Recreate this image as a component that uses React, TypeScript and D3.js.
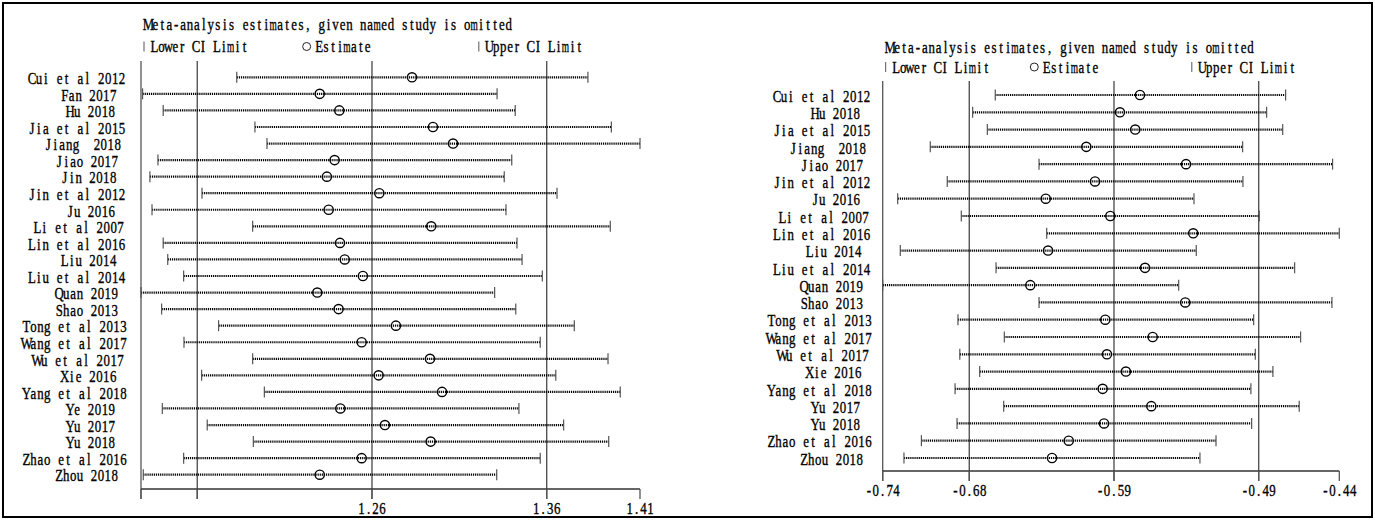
import React from "react";
import * as d3 from "d3";

// left plot: pooled estimate when the named study is left out
const leftStudies = ["Cui et al 2012", "Fan 2017", "Hu 2018", "Jia et al 2015", "Jiang  2018", "Jiao 2017", "Jin 2018", "Jin et al 2012", "Ju 2016", "Li et al 2007", "Lin et al 2016", "Liu 2014", "Liu et al 2014", "Quan 2019", "Shao 2013", "Tong et al 2013", "Wang et al 2017", "Wu et al 2017", "Xie 2016", "Yang et al 2018", "Ye 2019", "Yu 2017", "Yu 2018", "Zhao et al 2016", "Zhou 2018"];
const leftLower = [1.1826, 1.1287, 1.1405, 1.193, 1.1999, 1.1375, 1.1329, 1.1627, 1.1341, 1.1917, 1.1405, 1.1431, 1.1522, 1.1278, 1.1396, 1.1722, 1.1524, 1.1917, 1.1625, 1.1984, 1.14, 1.1657, 1.1921, 1.1522, 1.1291];
const leftEstimate = [1.2829, 1.2301, 1.2413, 1.2949, 1.3064, 1.2386, 1.2342, 1.2642, 1.2352, 1.2939, 1.2417, 1.2444, 1.2548, 1.2287, 1.2409, 1.2737, 1.2541, 1.2932, 1.2638, 1.3001, 1.2419, 1.2674, 1.2936, 1.2541, 1.2301];
const leftUpper = [1.3836, 1.3316, 1.342, 1.397, 1.4134, 1.34, 1.3357, 1.3659, 1.3367, 1.3964, 1.343, 1.3459, 1.3575, 1.3302, 1.3423, 1.3758, 1.3563, 1.3951, 1.3652, 1.4021, 1.3441, 1.3697, 1.3955, 1.3563, 1.3314];
const leftOverall = [1.16, 1.26, 1.36]; // lower CI, estimate, upper CI
const leftTickLabels = ["", "", "1.26", "1.36", "1.41"];

// right plot
const rightStudies = ["Cui et al 2012", "Hu 2018", "Jia et al 2015", "Jiang  2018", "Jiao 2017", "Jin et al 2012", "Ju 2016", "Li et al 2007", "Lin et al 2016", "Liu 2014", "Liu et al 2014", "Quan 2019", "Shao 2013", "Tong et al 2013", "Wang et al 2017", "Wu et al 2017", "Xie 2016", "Yang et al 2018", "Yu 2017", "Yu 2018", "Zhao et al 2016", "Zhou 2018"];
const rightLower = [-0.6656, -0.6804, -0.6708, -0.7081, -0.637, -0.697, -0.7294, -0.6878, -0.632, -0.7277, -0.6651, -0.7392, -0.637, -0.69, -0.6597, -0.6888, -0.6758, -0.6919, -0.6601, -0.6906, -0.7139, -0.7253];
const rightEstimate = [-0.571, -0.5841, -0.5741, -0.6061, -0.5409, -0.6004, -0.6326, -0.5904, -0.5362, -0.6311, -0.5677, -0.6427, -0.5414, -0.5937, -0.5627, -0.5926, -0.5802, -0.5954, -0.5636, -0.5945, -0.6176, -0.6285];
const rightUpper = [-0.4758, -0.4882, -0.4777, -0.5039, -0.4451, -0.5037, -0.5357, -0.493, -0.4407, -0.5342, -0.4699, -0.5457, -0.4455, -0.4967, -0.466, -0.4956, -0.4841, -0.4985, -0.4669, -0.498, -0.5213, -0.5318];
const rightOverall = [-0.6826, -0.588, -0.4934];
const rightTickLabels = ["-0.74", "-0.68", "-0.59", "-0.49", "-0.44"];

const title = "Meta-analysis estimates, given named study is omitted";

const FONT = "'Liberation Serif', 'DejaVu Serif', serif";
const CHAR_W = 6.93; // fixed-pitch cell, like the Stata export
const SX = 0.78;
const WIDE = "m";

// fixed-pitch text: each glyph centred in its own cell
function Txt({ x, y, anchor = "start", children }: any) {
  const s = String(children);
  const width = s.length * CHAR_W;
  const start = anchor === "middle" ? x - width / 2 : anchor === "end" ? x - width : x;
  return (
    <text
      transform={`scale(${SX},1)`}
      y={y}
      dy="0.35em"
      textAnchor="middle"
      fontFamily={FONT}
      fontSize={16.5}
      fill="#000"
      stroke="#000"
      strokeWidth={0.35}
    >
      {Array.from(s).map((c, i) =>
        c === " " ? null : WIDE.includes(c) ? (
          <tspan key={i} x={(start + (i + 0.5) * CHAR_W) / SX} textLength={(CHAR_W * 1.05) / SX} lengthAdjust="spacingAndGlyphs">
            {c}
          </tspan>
        ) : (
          <tspan key={i} x={(start + (i + 0.5) * CHAR_W) / SX}>
            {c}
          </tspan>
        )
      )}
    </text>
  );
}

function Panel(props: any) {
  const { studies, lower, estimate, upper, overall, tickLabels, x0, x1, rowTop, rowBottom, lineTop, axisY, titleY, legendY, labelCenter, tickLabelY } = props;
  const x = d3.scaleLinear().domain([d3.min(lower) as number, d3.max(upper) as number]).range([x0, x1]);
  const y = d3.scalePoint<string>().domain(studies).range([rowTop, rowBottom]);
  const ticks = [x.domain()[0], ...overall, x.domain()[1]];
  const w = x1 - x0;
  const grey = "#555";

  return (
    <g>
      <Txt x={x0 + 4} y={titleY}>{title}</Txt>
      {/* legend */}
      <line x1={x0 + 3} x2={x0 + 3} y1={legendY - 5} y2={legendY + 5} stroke={grey} strokeWidth={1} />
      <Txt x={x0 + 10} y={legendY}>Lower CI Limit</Txt>
      <circle cx={x0 + w * 0.332} cy={legendY} r={4} fill="none" stroke="#222" strokeWidth={1} />
      <Txt x={x0 + w * 0.332 + 9} y={legendY}>Estimate</Txt>
      <line x1={x0 + w * 0.677} x2={x0 + w * 0.677} y1={legendY - 5} y2={legendY + 5} stroke={grey} strokeWidth={1} />
      <Txt x={x0 + w * 0.677 + 7} y={legendY}>Upper CI Limit</Txt>

      {/* left axis and overall reference lines */}
      <line x1={x0} x2={x0} y1={lineTop} y2={axisY + 10} stroke={grey} strokeWidth={1.3} />
      {overall.map((v: number, i: number) => (
        <line key={i} x1={x(v)} x2={x(v)} y1={lineTop} y2={axisY + 10} stroke={grey} strokeWidth={1.4} />
      ))}
      <line x1={x0} x2={x1} y1={axisY} y2={axisY} stroke="#333" strokeWidth={1.3} />
      {ticks.map((v, i) => (
        <g key={i}>
          <line x1={x(v)} x2={x(v)} y1={axisY} y2={axisY + 10} stroke={grey} strokeWidth={1.3} />
          {tickLabels[i] ? <Txt x={x(v)} y={tickLabelY} anchor="middle">{tickLabels[i]}</Txt> : null}
        </g>
      ))}

      {/* study rows */}
      {studies.map((s: string, i: number) => {
        const yy = y(s) as number;
        return (
          <g key={s}>
            <Txt x={labelCenter - 2 * (s.length - 11)} y={yy + 1} anchor="middle">{s}</Txt>
            <line x1={x(lower[i])} x2={x(upper[i])} y1={yy} y2={yy} stroke="#000" strokeWidth={2.2} strokeDasharray="1.2 0.9" />
            <line x1={x(lower[i])} x2={x(lower[i])} y1={yy - 5.5} y2={yy + 5.5} stroke={grey} strokeWidth={1.2} />
            <line x1={x(upper[i])} x2={x(upper[i])} y1={yy - 5.5} y2={yy + 5.5} stroke={grey} strokeWidth={1.2} />
            <circle cx={x(estimate[i])} cy={yy} r={4.6} fill="none" stroke="#000" strokeWidth={1.4} />
          </g>
        );
      })}
    </g>
  );
}

export default function App() {
  return (
    <svg width={1375} height={520} style={{ position: "absolute", left: 0, top: 0, background: "#fff" }}>
      <rect x={0} y={0} width={1375} height={520} fill="#fff" />
      <rect x={3} y={3} width={1369} height={514} fill="none" stroke="#000" strokeWidth={2} />
      <Panel
        studies={leftStudies}
        lower={leftLower}
        estimate={leftEstimate}
        upper={leftUpper}
        overall={leftOverall}
        tickLabels={leftTickLabels}
        x0={141}
        x1={640}
        rowTop={77.3}
        rowBottom={474.7}
        lineTop={61}
        axisY={489}
        titleY={24}
        legendY={46.5}
        labelCenter={83}
        tickLabelY={508}
      />
      <Panel
        studies={rightStudies}
        lower={rightLower}
        estimate={rightEstimate}
        upper={rightUpper}
        overall={rightOverall}
        tickLabels={rightTickLabels}
        x0={882.7}
        x1={1339.3}
        rowTop={95}
        rowBottom={458}
        lineTop={81}
        axisY={471}
        titleY={47}
        legendY={67}
        labelCenter={828}
        tickLabelY={490}
      />
    </svg>
  );
}
